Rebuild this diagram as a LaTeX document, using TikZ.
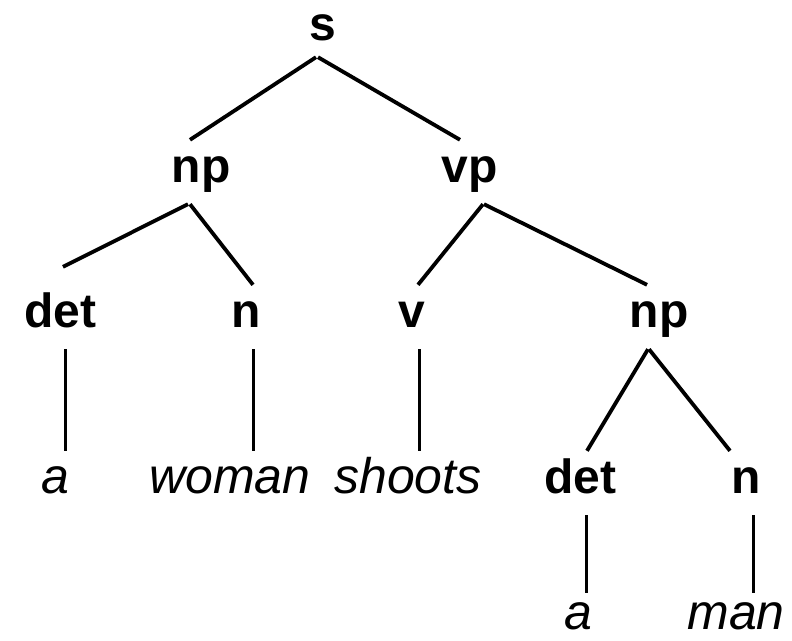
\documentclass[tikz,border=0pt]{standalone}
\usepackage{fontspec}
\setmainfont{Liberation Sans}
\begin{document}
\begin{tikzpicture}[x=1pt,y=-1pt,
  lab/.style={anchor=base,inner xsep=0pt,inner ysep=12pt,text height=30pt,text depth=10pt,font=\fontsize{48}{48}\selectfont\bfseries},
  word/.style={anchor=base,inner xsep=0pt,inner ysep=12pt,text height=30pt,text depth=10pt,font=\fontsize{50}{50}\selectfont\itshape},
  edge/.style={line width=3.8pt},
  vedge/.style={line width=3pt}]
\useasboundingbox (0,0) rectangle (792,640);
\node[lab] (s) at (323,40) {s};
\node[lab] (np1) at (201,182) {np};
\node[lab] (vp) at (470,182) {vp};
\node[lab] (det1) at (60,327) {det};
\node[lab] (n1) at (246,327) {n};
\node[lab] (v) at (412,327) {v};
\node[lab] (np2) at (659,327) {np};
\node[word] (a1) at (55,493) {a};
\node[word] (woman) at (230,493) {woman};
\node[word] (shoots) at (408,493) {shoots};
\node[lab] (det2) at (580,493) {det};
\node[lab] (n2) at (746,493) {n};
\node[word] (a2) at (578,629) {a};
\node[word] (man) at (736,629) {man};
% diagonal edges
\draw[edge] ([xshift=-7pt,yshift=5pt]s.south) -- ([xshift=-11pt]np1.north);
\draw[edge] ([xshift=-5pt,yshift=5pt]s.south) -- ([xshift=-10pt]vp.north);
\draw[edge] ([xshift=-13pt]np1.south) -- ([xshift=3pt,yshift=18pt]det1.north);
\draw[edge] ([xshift=-11pt]np1.south) -- ([xshift=7pt]n1.north);
\draw[edge] ([xshift=13pt]vp.south) -- ([xshift=6pt]v.north);
\draw[edge] ([xshift=14pt]vp.south) -- ([xshift=-12pt]np2.north);
\draw[edge] ([xshift=-11pt]np2.south) -- ([xshift=7pt]det2.north);
\draw[edge] ([xshift=-10pt]np2.south) -- ([xshift=-16pt]n2.north);
% vertical edges
\draw[vedge] ([xshift=5pt]det1.south) -- ([xshift=5pt]a1.north -| det1.south);
\draw[vedge] ([xshift=7pt]n1.south) -- ([xshift=7pt]woman.north -| n1.south);
\draw[vedge] ([xshift=7pt]v.south) -- ([xshift=7pt]shoots.north -| v.south);
\draw[vedge] ([xshift=6pt]det2.south) -- ([xshift=6pt,yshift=-6pt]a2.north -| det2.south);
\draw[vedge] ([xshift=7pt]n2.south) -- ([xshift=7pt,yshift=-6pt]man.north -| n2.south);
\end{tikzpicture}
\end{document}
